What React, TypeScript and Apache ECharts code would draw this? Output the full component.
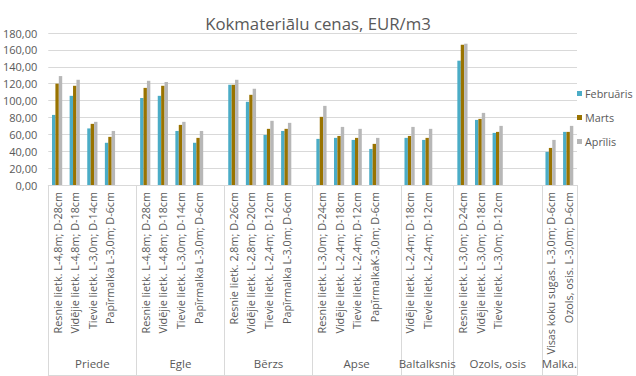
import React, { useEffect, useRef } from "react";
import * as echarts from "echarts";

const TITLE = "Kokmateriālu cenas, EUR/m3";
const SERIES_NAMES = ["Februāris", "Marts", "Aprīlis"];
const COLORS = ["#4BACC6", "#997300", "#B7B7B7"];

// groups: name, item labels (blank slots kept as "")
const GROUP_NAMES = ["Priede", "Egle", "Bērzs", "Apse", "Baltalksnis", "Ozols, osis", "Malka."];
const GROUP_ITEMS: string[][] = [
  ["Resnie lietk. L-4,8m; D-28cm", "Vidējie lietk. L-4,8m; D-18cm", "Tievie lietk. L-3,0m; D-14cm", "Papīrmalka L-3,0m; D-6cm", ""],
  ["Resnie lietk. L-4,8m; D-28cm", "Vidējie lietk. L-4,8m; D-18cm", "Tievie lietk. L-3,0m; D-14cm", "Papīrmalka L-3,0m; D-6cm", ""],
  ["Resnie lietk. 2,8m; D-26cm", "Vidējie lietk. L-2,8m; D-20cm", "Tievie lietk. L-2,4m; D-12cm", "Papīrmalka L-3,0m; D-6cm", ""],
  ["Resnie lietk. L-3,0m; D-24cm", "Vidējie lietk. L-2,4m; D-18cm", "Tievie lietk. L-2,4m; D-12cm", "PapīrmalkaK-3,0m; D-6cm", ""],
  ["Vidējie lietk. L-2,4m; D-18cm", "Tievie lietk. L-2,4m; D-12cm", ""],
  ["Resnie lietk. L-3,0m; D-24cm", "Vidējie lietk. L-3,0m; D-18cm", "Tievie lietk. L-3,0m; D-12cm", "", ""],
  ["Visas koku sugas. L-3,0m; D-6cm", "Ozols, osis. L-3,0m; D-6cm"],
];

// values per slot (null = blank slot)
const FEBRUARIS = [
  83, 105.6, 67, 50, null,
  103, 105.6, 64, 50, null,
  118.7, 98.5, 59.3, 64, null,
  54.6, 55.8, 53.4, 42.7, null,
  55.8, 53.4, null,
  147.2, 77.1, 61.7, null, null,
  39.2, 62.9,
];
const MARTS = [
  120, 117.5, 72.4, 57, null,
  115, 117.5, 71.2, 55.8, null,
  118.7, 106.8, 66.5, 66.5, null,
  80.7, 58.1, 55.8, 48.7, null,
  58.1, 55.8, null,
  166.1, 78.3, 62.9, null, null,
  43.9, 62.9,
];
const APRILIS = [
  129, 124.6, 74.8, 64, null,
  123.4, 122, 74.8, 64, null,
  124.6, 113.9, 76, 73.6, null,
  93.7, 68.8, 66.5, 55.8, null,
  68.8, 66.5, null,
  167.3, 85.4, 70, null, null,
  53.4, 70,
];

const Y_MIN = 0;
const Y_MAX = 180;
const Y_STEP = 20;

const FONT = "'Open Sans', sans-serif";
const TEXT_COLOR = "#595959";
const LINE_COLOR = "#D9D9D9";

export default function App() {
  const ref = useRef<HTMLDivElement>(null);

  useEffect(() => {
    if (!ref.current) return;
    const chart = echarts.init(ref.current, undefined, { renderer: "svg" });

    const slots: string[] = [];
    GROUP_ITEMS.forEach((g) => g.forEach((s) => slots.push(s)));

    // second axis: half-slot points (boundaryGap false), 2*N+1 points
    const nHalf = slots.length * 2 + 1;
    const groupAxis: string[] = new Array(nHalf).fill("");
    const boundaries = new Set<number>();
    let start = 0;
    boundaries.add(0);
    GROUP_ITEMS.forEach((g, i) => {
      const end = start + g.length;
      groupAxis[start + end] = GROUP_NAMES[i];
      boundaries.add(end * 2);
      start = end;
    });

    const seriesData = [FEBRUARIS, MARTS, APRILIS];

    chart.setOption({
      animation: false,
      backgroundColor: "#ffffff",
      textStyle: { fontFamily: FONT },
      title: {
        text: TITLE,
        left: "center",
        top: 10,
        textStyle: { fontFamily: FONT, fontSize: 16.8, fontWeight: "normal", color: TEXT_COLOR },
      },
      legend: {
        orient: "vertical",
        left: 577,
        top: 86,
        padding: 0,
        itemWidth: 5,
        itemHeight: 5,
        itemGap: 9,
        icon: "rect",
        data: SERIES_NAMES,
        textStyle: { fontFamily: FONT, fontSize: 10.8, lineHeight: 15, color: TEXT_COLOR, padding: [0, 0, 0, -2] },
      },
      grid: { left: 47, right: 59, top: 33, bottom: 191, containLabel: false },
      xAxis: [
        {
          type: "category",
          data: slots,
          axisLine: { show: true, lineStyle: { color: LINE_COLOR } },
          axisTick: { show: false },
          axisLabel: {
            interval: 0,
            rotate: 90,
            margin: 7,
            fontSize: 10.8,
            fontFamily: FONT,
            color: TEXT_COLOR,
          },
        },
        {
          type: "category",
          data: groupAxis,
          boundaryGap: false,
          position: "bottom",
          offset: 190,
          axisLine: { show: true, lineStyle: { color: LINE_COLOR } },
          axisTick: {
            show: true,
            inside: true,
            length: 190,
            interval: (idx: number) => boundaries.has(idx),
            lineStyle: { color: LINE_COLOR },
          },
          axisLabel: {
            show: true,
            inside: true,
            interval: 0,
            margin: 6,
            fontSize: 11.5,
            fontFamily: FONT,
            color: TEXT_COLOR,
          },
        },
      ],
      yAxis: {
        type: "value",
        min: Y_MIN,
        max: Y_MAX,
        interval: Y_STEP,
        axisLine: { show: false },
        axisTick: { show: false },
        splitLine: { lineStyle: { color: LINE_COLOR } },
        axisLabel: {
          margin: 11,
          fontSize: 11,
          fontFamily: FONT,
          color: TEXT_COLOR,
          formatter: (v: number) => v.toFixed(2).replace(".", ","),
        },
      },
      series: SERIES_NAMES.map((name, i) => ({
        name,
        type: "bar",
        xAxisIndex: 0,
        data: seriesData[i],
        barWidth: 3.4,
        barGap: "0%",
        itemStyle: { color: COLORS[i] },
      })),
    });

    return () => chart.dispose();
  }, []);

  return (
    <div
      ref={ref}
      style={{ width: 636, height: 376, position: "absolute", left: 0, top: 0 }}
    />
  );
}
